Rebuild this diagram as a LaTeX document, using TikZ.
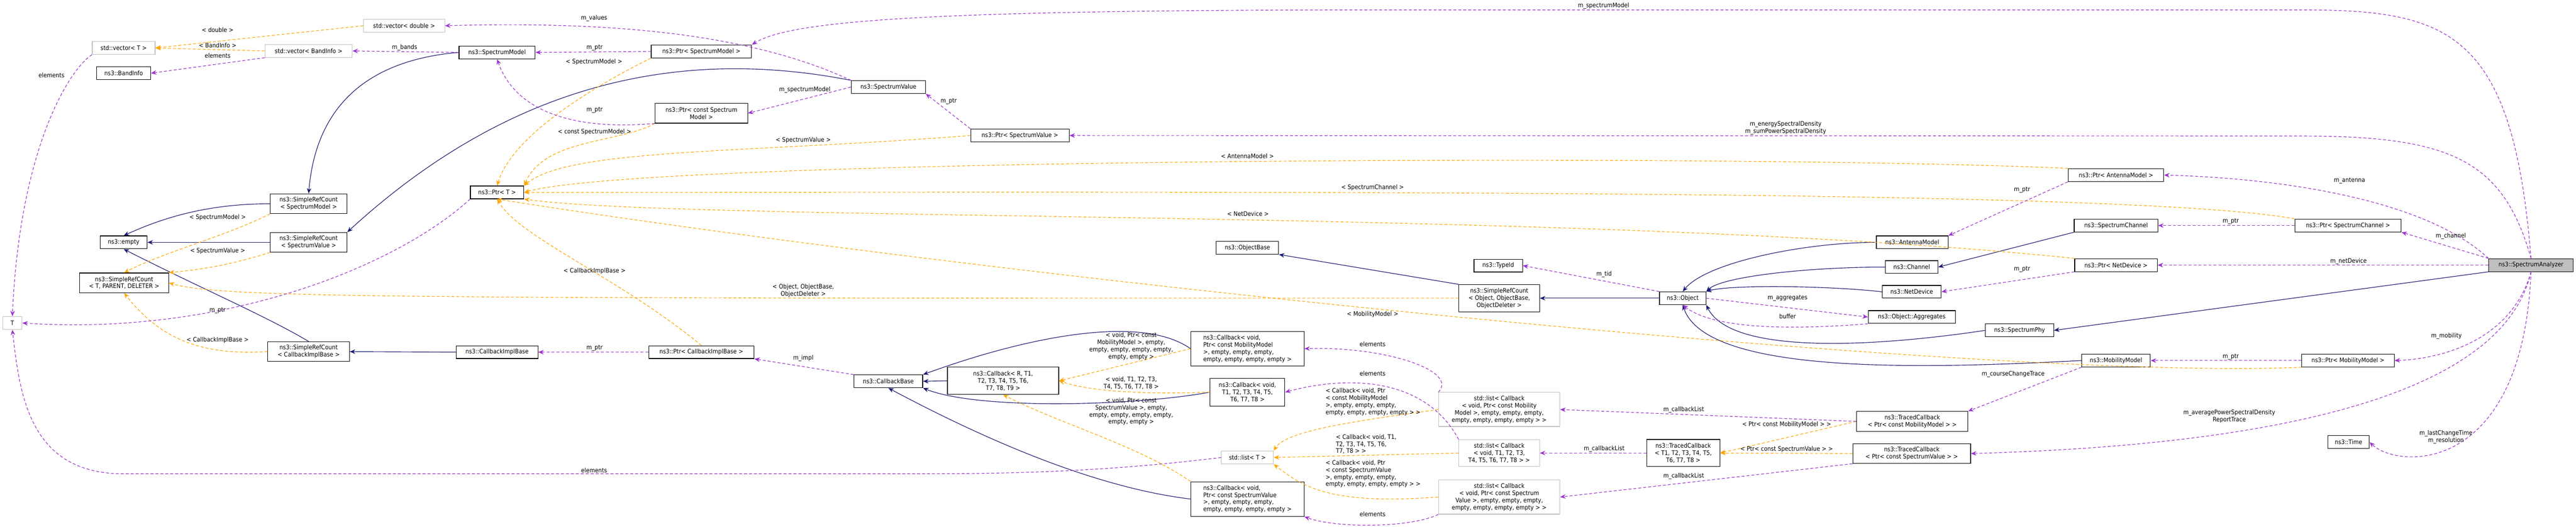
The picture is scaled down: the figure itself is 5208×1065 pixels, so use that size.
\documentclass[tikz,border=0pt]{standalone}
\usepackage{fontspec}
\setmainfont{DejaVu Sans Condensed}
\usetikzlibrary{arrows.meta}
\definecolor{inhblue}{HTML}{191970}
\definecolor{purp}{HTML}{9A32CD}
\definecolor{orng}{HTML}{FFA500}
\newcommand{\fs}{\fontsize{12.5}{14.5}\selectfont}
\tikzset{
 bx/.style={draw=black, fill=white, line width=1.2pt, inner sep=1pt, font=\fs, align=center},
 gbx/.style={bx, draw=black!25},
 inh/.style={draw=inhblue, line width=1.2pt, -{Stealth[length=11pt,width=9pt]}},
 tmpl/.style={draw=orng, line width=1.2pt, dash pattern=on 6pt off 4pt, -{Stealth[length=11pt,width=9pt]}},
 use/.style={draw=purp, line width=1.2pt, dash pattern=on 6pt off 4pt, -{Stealth[length=11pt,width=9pt]}},
 lab/.style={font=\fs, align=center, inner sep=0pt},
 labl/.style={font=\fs, align=left, inner sep=0pt}
}
\begin{document}
\begin{tikzpicture}[x=1pt,y=-1pt]
\useasboundingbox (0,0) rectangle (5208,1065);
% nodes
\node[gbx, minimum width=164, minimum height=26] (vd) at (817,52) {std::vector< double >};
\node[gbx, minimum width=127, minimum height=26] (vT) at (250,97) {std::vector< T >};
\node[gbx, minimum width=176, minimum height=26] (vB) at (624,103) {std::vector< BandInfo >};
\node[bx, minimum width=109, minimum height=26] (band) at (250,148) {ns3::BandInfo};
\node[bx, minimum width=154, minimum height=26] (sm) at (1005,106) {ns3::SpectrumModel};
\node[bx, minimum width=203, minimum height=26] (psm) at (1418,104) {ns3::Ptr< SpectrumModel >};
\node[bx, minimum width=150, minimum height=26] (sv) at (1796,176) {ns3::SpectrumValue};
\node[bx, minimum width=187, minimum height=40] (pcsm) at (1418,229) {ns3::Ptr< const Spectrum\\Model >};
\node[bx, minimum width=199, minimum height=26] (psv) at (2062,274) {ns3::Ptr< SpectrumValue >};
\node[bx, minimum width=155, minimum height=40] (srcsm) at (624,412) {ns3::SimpleRefCount\\< SpectrumModel >};
\node[bx, minimum width=155, minimum height=40] (srcsv) at (624,490) {ns3::SimpleRefCount\\< SpectrumValue >};
\node[bx, minimum width=95, minimum height=26] (empty) at (250,490) {ns3::empty};
\node[bx, minimum width=108, minimum height=26] (ptrT) at (1005,389) {ns3::Ptr< T >};
\node[bx, minimum width=180, minimum height=40] (srcT) at (251,572) {ns3::SimpleRefCount\\< T, PARENT, DELETER >};
\node[gbx, minimum width=39, minimum height=26] (T) at (25,653) {T};
\node[bx, minimum width=165, minimum height=40] (srccib) at (624,711) {ns3::SimpleRefCount\\< CallbackImplBase >};
\node[bx, minimum width=165, minimum height=26] (cib) at (1005,712) {ns3::CallbackImplBase};
\node[bx, minimum width=213, minimum height=26] (pcib) at (1418,712) {ns3::Ptr< CallbackImplBase >};
\node[bx, minimum width=139, minimum height=26] (cbb) at (1796,771) {ns3::CallbackBase};
\node[bx, minimum width=126, minimum height=26] (ob) at (2522,501) {ns3::ObjectBase};
\node[bx, align=left, minimum width=229, minimum height=70] (cbmm) at (2522,705) {ns3::Callback< void,\\ Ptr< const MobilityModel\\ >, empty, empty, empty,\\ empty, empty, empty, empty >};
\node[bx, minimum width=225, minimum height=55] (cbR) at (2028,770) {ns3::Callback< R, T1,\\T2, T3, T4, T5, T6,\\T7, T8, T9 >};
\node[bx, minimum width=151, minimum height=56] (cbT) at (2522,793) {ns3::Callback< void,\\T1, T2, T3, T4, T5,\\T6, T7, T8 >};
\node[gbx, minimum width=105, minimum height=26] (listT) at (2522,925) {std::list< T >};
\node[bx, align=left, minimum width=229, minimum height=70] (cbsv) at (2522,1009) {ns3::Callback< void,\\ Ptr< const SpectrumValue\\ >, empty, empty, empty,\\ empty, empty, empty, empty >};
\node[gbx, minimum width=245, minimum height=69] (lmm) at (3031,828) {std::list< Callback\\< void, Ptr< const Mobility\\Model >, empty, empty, empty,\\empty, empty, empty, empty > >};
\node[gbx, minimum width=163, minimum height=54] (lT) at (3031,916) {std::list< Callback\\< void, T1, T2, T3,\\T4, T5, T6, T7, T8 > >};
\node[gbx, minimum width=245, minimum height=69] (lsv) at (3031,1005) {std::list< Callback\\< void, Ptr< const Spectrum\\Value >, empty, empty, empty,\\empty, empty, empty, empty > >};
\node[bx, minimum width=163, minimum height=55] (srcobj) at (3031,603) {ns3::SimpleRefCount\\< Object, ObjectBase,\\ObjectDeleter >};
\node[bx, minimum width=98, minimum height=26] (typeid) at (3029,537) {ns3::TypeId};
\node[bx, minimum width=94, minimum height=26] (obj) at (3402,603) {ns3::Object};
\node[bx, minimum width=145, minimum height=26] (ant) at (3866,490) {ns3::AntennaModel};
\node[bx, minimum width=106, minimum height=26] (chan) at (3865,540) {ns3::Channel};
\node[bx, minimum width=119, minimum height=26] (nd) at (3865,590) {ns3::NetDevice};
\node[bx, minimum width=176, minimum height=26] (agg) at (3865,641) {ns3::Object::Aggregates};
\node[bx, minimum width=138, minimum height=26] (sphy) at (4083,668) {ns3::SpectrumPhy};
\node[bx, minimum width=225, minimum height=40] (tcmm) at (3866,852) {ns3::TracedCallback\\< Ptr< const MobilityModel > >};
\node[bx, minimum width=148, minimum height=55] (tcT) at (3403,916) {ns3::TracedCallback\\< T1, T2, T3, T4, T5,\\T6, T7, T8 >};
\node[bx, minimum width=238, minimum height=40] (tcsv) at (3865,917) {ns3::TracedCallback\\< Ptr< const SpectrumValue > >};
\node[bx, minimum width=193, minimum height=26] (pant) at (4278,354) {ns3::Ptr< AntennaModel >};
\node[bx, minimum width=169, minimum height=26] (schan) at (4278,456) {ns3::SpectrumChannel};
\node[bx, minimum width=215, minimum height=26] (pschan) at (4747,456) {ns3::Ptr< SpectrumChannel >};
\node[bx, minimum width=167, minimum height=26] (pnd) at (4278,536) {ns3::Ptr< NetDevice >};
\node[bx, fill=black!25, minimum width=171, minimum height=26] (sa) at (5117,536) {ns3::SpectrumAnalyzer};
\node[bx, minimum width=139, minimum height=26] (mm) at (4278,729) {ns3::MobilityModel};
\node[bx, minimum width=187, minimum height=26] (pmm) at (4747,729) {ns3::Ptr< MobilityModel >};
\node[bx, minimum width=84, minimum height=26] (time) at (4748,894) {ns3::Time};
% helper coordinates
\coordinate (ta) at (4650,20);
\coordinate (tb) at (2800,20);
\coordinate (tc) at (4650,275);
\coordinate (ec) at (1800,958);
\coordinate (ed) at (250,958);
% inheritance
\draw[inh] (sm.west) .. controls (760,120) and (640,200) .. (srcsm.north);
\draw[inh] (sv.north west) .. controls (1400,100) and (1050,150) .. (srcsv.north east);
\draw[inh] (srcsm.west) .. controls (420,412) and (330,440) .. (empty.north);
\draw[inh] (srcsv.west) -- (empty.east);
\draw[inh] (srccib.north) .. controls (540,640) and (400,580) .. (empty.south);
\draw[inh] (cib.west) -- (srccib.east);
\draw[inh] (cbmm.west) .. controls (2300,630) and (2050,690) .. (cbb.north east);
\draw[inh] (cbR.west) -- (cbb.east);
\draw[inh] (cbT.west) .. controls (2300,820) and (1980,830) .. (cbb.south east);
\draw[inh] (cbsv.west) .. controls (2250,990) and (2050,920) .. (cbb.south);
\draw[inh] (obj.west) -- (srcobj.east);
\draw[inh] (srcobj.north west) -- (ob.south east);
\draw[inh] (ant.west) .. controls (3650,490) and (3450,530) .. (obj.north);
\draw[inh] (chan.west) .. controls (3650,540) and (3480,560) .. (obj.north east);
\draw[inh] (nd.west) .. controls (3700,578) and (3500,575) .. (obj.north east);
\draw[inh] (sphy.west) .. controls (3800,700) and (3500,720) .. (obj.south east);
\draw[inh] (mm.west) .. controls (3900,745) and (3450,760) .. (obj.south);
\draw[inh] (schan.south west) -- (chan.east);
\draw[inh] (sa.south west) -- (sphy.east);
% templates
\draw[tmpl] (vd.west) -- (vT.east);
\draw[tmpl] (vB.west) -- (vT.east);
\draw[tmpl] (srcsm.south west) .. controls (450,480) and (330,510) .. (srcT.north);
\draw[tmpl] (srcsv.south west) .. controls (450,540) and (400,545) .. (srcT.north east);
\draw[tmpl] (srccib.west) .. controls (400,720) and (320,680) .. (srcT.south);
\draw[tmpl] (srcobj.west) .. controls (800,603) and (450,603) .. (srcT.east);
\draw[tmpl] (psm.south west) .. controls (1250,150) and (1040,260) .. (ptrT.north);
\draw[tmpl] (pcsm.south west) .. controls (1250,290) and (1100,280) .. (ptrT.north east);
\draw[tmpl] (psv.west) .. controls (1500,310) and (1150,300) .. (ptrT.north east);
\draw[tmpl] (pant.north west) .. controls (3500,310) and (1300,320) .. (ptrT.east);
\draw[tmpl] (pschan.north west) .. controls (4300,380) and (2500,389) .. (ptrT.east);
\draw[tmpl] (pnd.north west) .. controls (3200,420) and (1400,450) .. (ptrT.south east);
\draw[tmpl] (pmm.south west) .. controls (4000,770) and (2000,560) .. (ptrT.south);
\draw[tmpl] (pcib.north) .. controls (1250,560) and (1050,480) .. (ptrT.south);
\draw[tmpl] (cbmm.west) -- (cbR.east);
\draw[tmpl] (cbT.west) .. controls (2300,798) and (2200,790) .. (cbR.east);
\draw[tmpl] (cbsv.north west) .. controls (2300,900) and (2150,860) .. (cbR.south);
\draw[tmpl] (lmm.west) .. controls (2750,850) and (2600,870) .. (listT.north east);
\draw[tmpl] (lT.west) -- (listT.east);
\draw[tmpl] (lsv.west) .. controls (2700,1020) and (2640,990) .. (listT.south east);
\draw[tmpl] (tcmm.west) -- (tcT.east);
\draw[tmpl] (tcsv.west) -- (tcT.east);
% usage
\draw[use] (sa.north) .. controls (5080,60) and (4950,20) .. (ta) -- (tb) .. controls (1900,20) and (1600,40) .. (psm.north east);
\draw[use] (sa.north) .. controls (5060,320) and (4950,275) .. (tc) -- (psv.east);
\draw[use] (sa.north west) .. controls (4900,400) and (4600,360) .. (pant.east);
\draw[use] (sa.north west) -- (pschan.south east);
\draw[use] (sa.west) -- (pnd.east);
\draw[use] (sa.south) .. controls (5080,680) and (4950,725) .. (pmm.east);
\draw[use] (sa.south) .. controls (5060,800) and (4600,900) .. (tcsv.east);
\draw[use] (sa.south) .. controls (5100,960) and (4850,950) .. (time.east);
\draw[use] (sm.west) -- (vB.east);
\draw[use] (vB.south west) -- (band.east);
\draw[use] (vT.south west) .. controls (140,140) and (40,300) .. (T.north);
\draw[use] (listT.west) .. controls (2200,958) and (2000,958) .. (ec) -- (ed) .. controls (60,958) and (40,800) .. (T.south);
\draw[use] (sv.north west) .. controls (1500,60) and (1200,44) .. (vd.east);
\draw[use] (sv.west) -- (pcsm.east);
\draw[use] (psm.west) -- (sm.east);
\draw[use] (pcsm.south west) .. controls (1150,265) and (1040,220) .. (sm.south);
\draw[use] (psv.north west) -- (sv.south east);
\draw[use] (ptrT.south west) .. controls (800,540) and (450,680) .. (T.east);
\draw[use] (pcib.west) -- (cib.east);
\draw[use] (cbb.north west) -- (pcib.south east);
\draw[use] (lmm.north west) .. controls (2950,750) and (2800,700) .. (cbmm.east);
\draw[use] (lT.north west) .. controls (2880,760) and (2720,760) .. (cbT.east);
\draw[use] (lsv.south west) .. controls (2850,1068) and (2700,1068) .. (cbsv.south east);
\draw[use] (tcmm.west) -- (lmm.east);
\draw[use] (tcT.west) -- (lT.east);
\draw[use] (tcsv.south west) -- (lsv.east);
\draw[use] (mm.south west) -- (tcmm.north east);
\draw[use] (obj.north west) -- (typeid.east);
\draw[use] (obj.east) -- (agg.west);
\draw[use] (agg.south west) .. controls (3650,665) and (3470,670) .. (obj.south);
\draw[use] (pant.south west) -- (ant.north east);
\draw[use] (pschan.west) -- (schan.east);
\draw[use] (pnd.south west) -- (nd.east);
\draw[use] (pmm.west) -- (mm.east);
% labels
\node[lab] (l1) at (440,60) {< double >};
\node[lab] (l2) at (440,92) {< BandInfo >};
\node[lab] (l3) at (440,113) {elements};
\node[lab] (l4) at (818,96) {m\_bands};
\node[lab] (l5) at (104,152) {elements};
\node[lab] (l6) at (440,440) {< SpectrumModel >};
\node[lab] (l7) at (440,507) {< SpectrumValue >};
\node[lab] (l8) at (440,628) {m\_ptr};
\node[lab] (l9) at (440,688) {< CallbackImplBase >};
\node[lab] (l10) at (1201,37) {m\_values};
\node[lab] (l11) at (1202,97) {m\_ptr};
\node[lab] (l12) at (1201,125) {< SpectrumModel >};
\node[lab] (l13) at (1202,223) {m\_ptr};
\node[lab] (l14) at (1627,182) {m\_spectrumModel};
\node[lab] (l15) at (1202,267) {< const SpectrumModel >};
\node[lab] (l16) at (1918,205) {m\_ptr};
\node[lab] (l17) at (1624,284) {< SpectrumValue >};
\node[lab] (l18) at (1202,548) {< CallbackImplBase >};
\node[lab] (l19) at (1624,588) {< Object, ObjectBase,\\ObjectDeleter >};
\node[lab] (l20) at (1202,704) {m\_ptr};
\node[lab] (l21) at (1624,724) {m\_impl};
\node[lab] (l22) at (1201,951) {elements};
\node[lab] (l23) at (2522,316) {< AntennaModel >};
\node[lab] (l24) at (2775,379) {< SpectrumChannel >};
\node[lab] (l25) at (2523,432) {< NetDevice >};
\node[lab] (l26) at (2775,636) {< MobilityModel >};
\node[lab] (l27) at (2287,700) {< void, Ptr< const\\MobilityModel >, empty,\\empty, empty, empty, empty,\\empty, empty >};
\node[lab] (l28) at (2287,775) {< void, T1, T2, T3,\\T4, T5, T6, T7, T8 >};
\node[lab] (l29) at (2287,832) {< void, Ptr< const\\SpectrumValue >, empty,\\empty, empty, empty, empty,\\empty, empty >};
\node[lab] (l30) at (2775,696) {elements};
\node[lab] (l31) at (2775,755) {elements};
\node[labl] (l32) at (2776,813) {< Callback< void, Ptr\\< const MobilityModel\\>, empty, empty, empty,\\empty, empty, empty, empty > >};
\node[labl] (l33) at (2762,898) {< Callback< void, T1,\\T2, T3, T4, T5, T6,\\T7, T8 > >};
\node[labl] (l34) at (2776,958) {< Callback< void, Ptr\\< const SpectrumValue\\>, empty, empty, empty,\\empty, empty, empty, empty > >};
\node[lab] (l35) at (2775,1040) {elements};
\node[lab] (l36) at (3242,12) {m\_spectrumModel};
\node[lab] (l37) at (3610,259) {m\_energySpectralDensity\\m\_sumPowerSpectralDensity};
\node[lab] (l38) at (4088,384) {m\_ptr};
\node[lab] (l39) at (3243,555) {m\_tid};
\node[lab] (l40) at (3614,603) {m\_aggregates};
\node[lab] (l41) at (3614,640) {buffer};
\node[lab] (l42) at (4088,544) {m\_ptr};
\node[lab] (l43) at (4070,757) {m\_courseChangeTrace};
\node[lab] (l44) at (3404,828) {m\_callbackList};
\node[lab] (l45) at (3612,858) {< Ptr< const MobilityModel > >};
\node[lab] (l46) at (3243,908) {m\_callbackList};
\node[lab] (l47) at (3612,908) {< Ptr< const SpectrumValue > >};
\node[lab] (l48) at (3404,963) {m\_callbackList};
\node[lab] (l49) at (4750,365) {m\_antenna};
\node[lab] (l50) at (4510,448) {m\_ptr};
\node[lab] (l51) at (4955,477) {m\_channel};
\node[lab] (l52) at (4748,528) {m\_netDevice};
\node[lab] (l53) at (4946,679) {m\_mobility};
\node[lab] (l54) at (4510,721) {m\_ptr};
\node[lab] (l55) at (4507,842) {m\_averagePowerSpectralDensity\\ReportTrace};
\node[lab] (l56) at (4945,884) {m\_lastChangeTime\\m\_resolution};
\end{tikzpicture}
\end{document}
